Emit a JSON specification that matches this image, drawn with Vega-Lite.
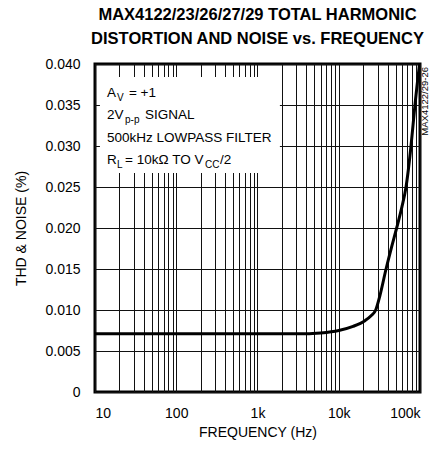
{
  "$schema": "https://vega.github.io/schema/vega-lite/v6.json",
  "width": 325,
  "height": 328,
  "autosize": {"type": "none"},
  "padding": {"left": 95, "top": 64, "right": 10, "bottom": 57},
  "background": "white",
  "title": {
    "text": ["MAX4122/23/26/27/29 TOTAL HARMONIC", "DISTORTION AND NOISE vs. FREQUENCY"],
    "anchor": "middle",
    "frame": "group",
    "font": "Liberation Sans",
    "fontSize": 16.5,
    "fontWeight": "bold",
    "color": "black",
    "lineHeight": 24,
    "offset": 10
  },
  "config": {
    "view": {"stroke": "black", "strokeWidth": 3},
    "axis": {
      "domain": false,
      "ticks": false,
      "labelFont": "Liberation Sans",
      "labelFontSize": 14,
      "labelColor": "black",
      "titleFont": "Liberation Sans",
      "titleFontSize": 14,
      "titleFontWeight": "normal",
      "titleColor": "black",
      "gridColor": "#111",
      "gridWidth": 1,
      "gridOpacity": 1,
      "labelOverlap": false
    }
  },
  "datasets": {
    "curve": [
      {"f": 10, "thd": 0.0071},
      {"f": 1000, "thd": 0.0071},
      {"f": 4000, "thd": 0.0071},
      {"f": 6000, "thd": 0.0072},
      {"f": 10000, "thd": 0.0075},
      {"f": 15000, "thd": 0.0080},
      {"f": 21000, "thd": 0.0087},
      {"f": 25000, "thd": 0.0093},
      {"f": 28500, "thd": 0.0100},
      {"f": 32000, "thd": 0.0117},
      {"f": 38200, "thd": 0.0150},
      {"f": 45000, "thd": 0.0178},
      {"f": 51600, "thd": 0.0200},
      {"f": 60000, "thd": 0.0226},
      {"f": 67300, "thd": 0.0250},
      {"f": 77500, "thd": 0.0300},
      {"f": 86700, "thd": 0.0350},
      {"f": 100000, "thd": 0.0405}
    ],
    "box": [{"f1": 11.5, "f2": 1886, "v1": 0.0267, "v2": 0.0384}],
    "mainText": [
      {"t": "A", "f": 14.05, "v": 0.03646},
      {"t": "= +1", "f": 26.2, "v": 0.03646},
      {"t": "2V", "f": 14.05, "v": 0.03378},
      {"t": "SIGNAL", "f": 41.3, "v": 0.03378},
      {"t": "500kHz LOWPASS FILTER", "f": 14.05, "v": 0.03098},
      {"t": "R", "f": 14.05, "v": 0.02829},
      {"t": "= 10kΩ TO V", "f": 23.4, "v": 0.02829},
      {"t": "/2", "f": 345.6, "v": 0.02829}
    ],
    "subText": [
      {"t": "V", "f": 18.66, "v": 0.03646},
      {"t": "p-p", "f": 23.4, "v": 0.03378},
      {"t": "L", "f": 18.66, "v": 0.02829},
      {"t": "CC", "f": 225.9, "v": 0.02829}
    ]
  },
  "layer": [
    {
      "data": {"name": "box"},
      "mark": {"type": "rect", "fill": "white", "stroke": null},
      "encoding": {
        "x": {"field": "f1", "type": "quantitative", "scale": {"type": "log", "domain": [10, 100000]},
          "axis": {
            "title": "FREQUENCY (Hz)",
            "values": [10,20,30,40,50,60,70,80,90,100,200,300,400,500,600,700,800,900,1000,2000,3000,4000,5000,6000,7000,8000,9000,10000,20000,30000,40000,50000,60000,70000,80000,90000,100000],
            "labelExpr": "datum.value == 10 ? '10' : datum.value == 100 ? '100' : datum.value == 1000 ? '1k' : datum.value == 10000 ? '10k' : datum.value == 100000 ? '100k' : ''",
            "labelPadding": 14,
            "titlePadding": 5,
            "grid": true
          }},
        "x2": {"field": "f2"},
        "y": {"field": "v1", "type": "quantitative", "scale": {"domain": [0, 0.04]},
          "axis": {
            "title": "THD & NOISE (%)",
            "values": [0, 0.005, 0.01, 0.015, 0.02, 0.025, 0.03, 0.035, 0.04],
            "labelExpr": "datum.value == 0 ? '0' : format(datum.value, '.3f')",
            "labelPadding": 15,
            "titlePadding": 16,
            "grid": true
          }},
        "y2": {"field": "v2"}
      }
    },
    {
      "data": {"name": "curve"},
      "mark": {"type": "line", "color": "black", "strokeWidth": 3, "interpolate": "monotone", "clip": true},
      "encoding": {
        "x": {"field": "f", "type": "quantitative"},
        "y": {"field": "thd", "type": "quantitative"}
      }
    },
    {
      "data": {"name": "mainText"},
      "mark": {"type": "text", "align": "left", "baseline": "middle", "font": "Liberation Sans", "fontSize": 13.5, "color": "black"},
      "encoding": {
        "x": {"field": "f", "type": "quantitative"},
        "y": {"field": "v", "type": "quantitative"},
        "text": {"field": "t"}
      }
    },
    {
      "data": {"name": "subText"},
      "mark": {"type": "text", "align": "left", "baseline": "middle", "font": "Liberation Sans", "fontSize": 10, "dy": 5, "color": "black"},
      "encoding": {
        "x": {"field": "f", "type": "quantitative"},
        "y": {"field": "v", "type": "quantitative"},
        "text": {"field": "t"}
      }
    },
    {
      "data": {"values": [{"t": "MAX4122/29-26", "f": 100000, "v": 0.04}]},
      "mark": {"type": "text", "angle": 270, "align": "right", "baseline": "alphabetic", "font": "Liberation Sans", "fontSize": 9.5, "dx": -3, "dy": 8, "color": "black"},
      "encoding": {
        "x": {"field": "f", "type": "quantitative"},
        "y": {"field": "v", "type": "quantitative"},
        "text": {"field": "t"}
      }
    }
  ]
}
